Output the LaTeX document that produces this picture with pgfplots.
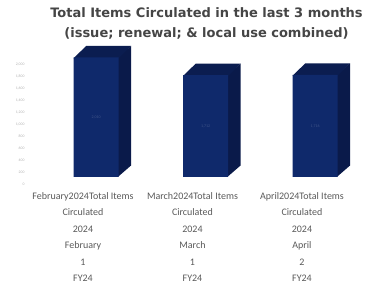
\documentclass[border=0pt]{standalone}
\usepackage{pgfplots}
\pgfplotsset{compat=1.18}
\usepackage{pgfplotstable}
\usepackage{fontspec}
\setmainfont{Carlito}
\newfontfamily\titlefont{DejaVu Sans}
\definecolor{frontcol}{HTML}{0F296B}
\definecolor{sidecol}{HTML}{0A1A4A}
\definecolor{topcol}{HTML}{0B1D50}
\definecolor{titlecol}{HTML}{454545}
\definecolor{labcol}{HTML}{595959}
\pgfplotstableread{
x v
0 2010
1 1712
2 1716
}\datatable
\begin{document}
\begin{tikzpicture}[x=1pt,y=1pt]
\path[use as bounding box] (0,0) rectangle (368,287);
\node[align=center, font=\titlefont\bfseries\fontsize{13}{19.5}\selectfont, text=titlecol] at (206.5,263.5)
  {Total Items Circulated in the last 3 months\\(issue; renewal; \& local use combined)};
\begin{axis}[
  at={(28pt,110pt)}, anchor=south west,
  scale only axis, width=332pt, height=133.3pt,
  xmin=-0.502, xmax=2.53, ymin=0, ymax=2240,
  clip=false,
  axis line style={draw=none},
  major tick style={draw=none},
  ytick={0,200,...,2000},
  /pgf/number format/assume math mode=true,
  /pgf/number format/1000 sep={,},
  yticklabel style={font=\fontsize{3.8}{4}\selectfont, text=gray!60, yshift=-7pt},
  xtick={0,1,2},
  xticklabels={{February2024Total Items\\Circulated\\2024\\February\\1\\FY24},
               {March2024Total Items\\Circulated\\2024\\March\\1\\FY24},
               {April2024Total Items\\Circulated\\2024\\April\\2\\FY24}},
  xticklabel style={align=center, font=\fontsize{10}{16.4}\selectfont, text=labcol, yshift=-12pt},
]
% side faces
\addplot[fill=sidecol, draw=none] coordinates {(0.318,0) (0.439,193) (0.439,2203) (0.318,2010)};
\addplot[fill=sidecol, draw=none] coordinates {(1.318,0) (1.439,193) (1.439,1905) (1.318,1712)};
\addplot[fill=sidecol, draw=none] coordinates {(2.318,0) (2.439,193) (2.439,1909) (2.318,1716)};
% top faces
\addplot[fill=topcol, draw=none] coordinates {(-0.085,1995) (0.325,1995) (0.439,2203) (0.029,2203)};
\addplot[fill=topcol, draw=none] coordinates {(0.915,1697) (1.325,1697) (1.439,1905) (1.029,1905)};
\addplot[fill=topcol, draw=none] coordinates {(1.915,1701) (2.325,1701) (2.439,1909) (2.029,1909)};
% front faces
\addplot[ybar, bar width=0.41, bar shift=0.12, fill=frontcol, draw=none] table[x=x, y=v] {\datatable};
% data labels
\addplot[draw=none, mark=none, nodes near coords, point meta=explicit,
  nodes near coords style={anchor=center, font=\fontsize{4}{5}\selectfont, text=frontcol!80!white}]
  table[x expr=\thisrow{x}+0.12, y expr=\thisrow{v}/2, meta=v] {\datatable};
\end{axis}
\end{tikzpicture}
\end{document}
